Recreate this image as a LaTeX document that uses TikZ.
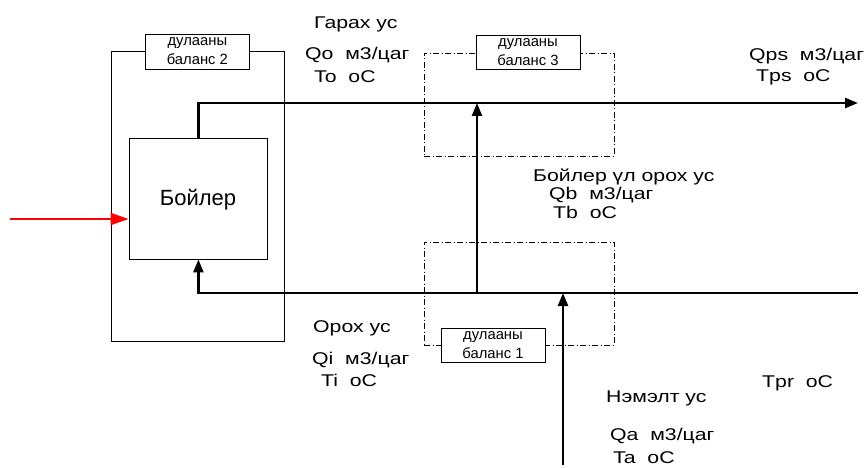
\documentclass[tikz,border=0pt]{standalone}
\usepackage{fontspec}
\setmainfont{Liberation Sans}
\newfontfamily\lblfont[FakeStretch=1.25]{Liberation Sans}
\usetikzlibrary{arrows.meta}
\tikzset{
  thickln/.style={line width=2.4pt},
  tip/.style={-{Triangle[length=13pt,width=10pt]}},
  thinbox/.style={draw, line width=0.9pt, inner sep=0pt},
  balbox/.style={draw, line width=0.8pt, inner sep=0pt, dash pattern=on 6pt off 2.5pt on 1pt off 2.5pt},
  lblbox/.style={draw, fill=white, line width=0.9pt, inner sep=0pt, minimum width=104pt, minimum height=34pt, align=center, font=\fontsize{14.8}{19}\selectfont},
  txt/.style={anchor=base west, inner sep=0pt, font=\lblfont\fontsize{17}{20}\selectfont}
}
\begin{document}
\begin{tikzpicture}[x=1pt,y=-1pt]
\useasboundingbox (0,0) rectangle (865,468);
% balance boxes
\node[thinbox, minimum width=172.3pt, minimum height=289.3pt] (b2) at (197.85,196.35) {};
\node[balbox, minimum width=190pt, minimum height=103pt] (b3) at (519,104.5) {};
\node[balbox, minimum width=190pt, minimum height=103pt] (b1) at (519,293.5) {};
% boiler
\node[thinbox, minimum width=138.7pt, minimum height=120.7pt, fill=white] (boiler) at (198.4,198.6) {};
\node[inner sep=0pt, anchor=base, font=\fontsize{22}{24}\selectfont] (boilertxt) at (198,205) {Бойлер};
% coordinates
\coordinate (outR) at (858,103);
\coordinate (inR) at (858,293);
\coordinate (j1) at (477,293);
\coordinate (mkB) at (563,465);
\coordinate (redS) at (10,219);
% lines
\draw[thickln, tip] (boiler.north) |- (outR);
\draw[thickln, tip] (inR) -| (boiler.south);
\draw[thickln, tip] (j1) -- (j1 |- outR);
\draw[thickln, tip] (mkB) -- (mkB |- inR);
\draw[red, line width=2pt, -{Triangle[length=18pt,width=12pt]}] (redS) -- (redS -| boiler.west);
% label boxes
\node[lblbox, minimum width=103.3pt, minimum height=35pt] (l2) at (197.35,51.5) {дулааны\\баланс 2};
\node[lblbox] (l3) at (528,52) {дулааны\\баланс 3};
\node[lblbox] (l1) at (493,345) {дулааны\\баланс 1};
% texts
\node[txt] (t1) at (314,29) {Гарах ус};
\node[txt] (t2) at (305,60) {Qo\ \ м3/цаг};
\node[txt] (t3) at (314,83) {To\ \ oC};
\node[txt] (t4) at (749,61) {Qps\ \ м3/цаг};
\node[txt] (t5) at (756,82) {Tps\ \ oC};
\node[txt] (t6) at (533,182) {Бойлер үл орох ус};
\node[txt] (t7) at (549,200) {Qb\ \ м3/цаг};
\node[txt] (t8) at (553,218) {Tb\ \ oC};
\node[txt] (t9) at (313,332) {Орох ус};
\node[txt] (t10) at (312,364) {Qi\ \ м3/цаг};
\node[txt] (t11) at (321,386) {Ti\ \ oC};
\node[txt] (t12) at (606,402) {Нэмэлт ус};
\node[txt] (t13) at (610,440) {Qa\ \ м3/цаг};
\node[txt] (t14) at (613,463) {Ta\ \ oC};
\node[txt] (t15) at (762,387) {Tpr\ \ oC};
\end{tikzpicture}
\end{document}
